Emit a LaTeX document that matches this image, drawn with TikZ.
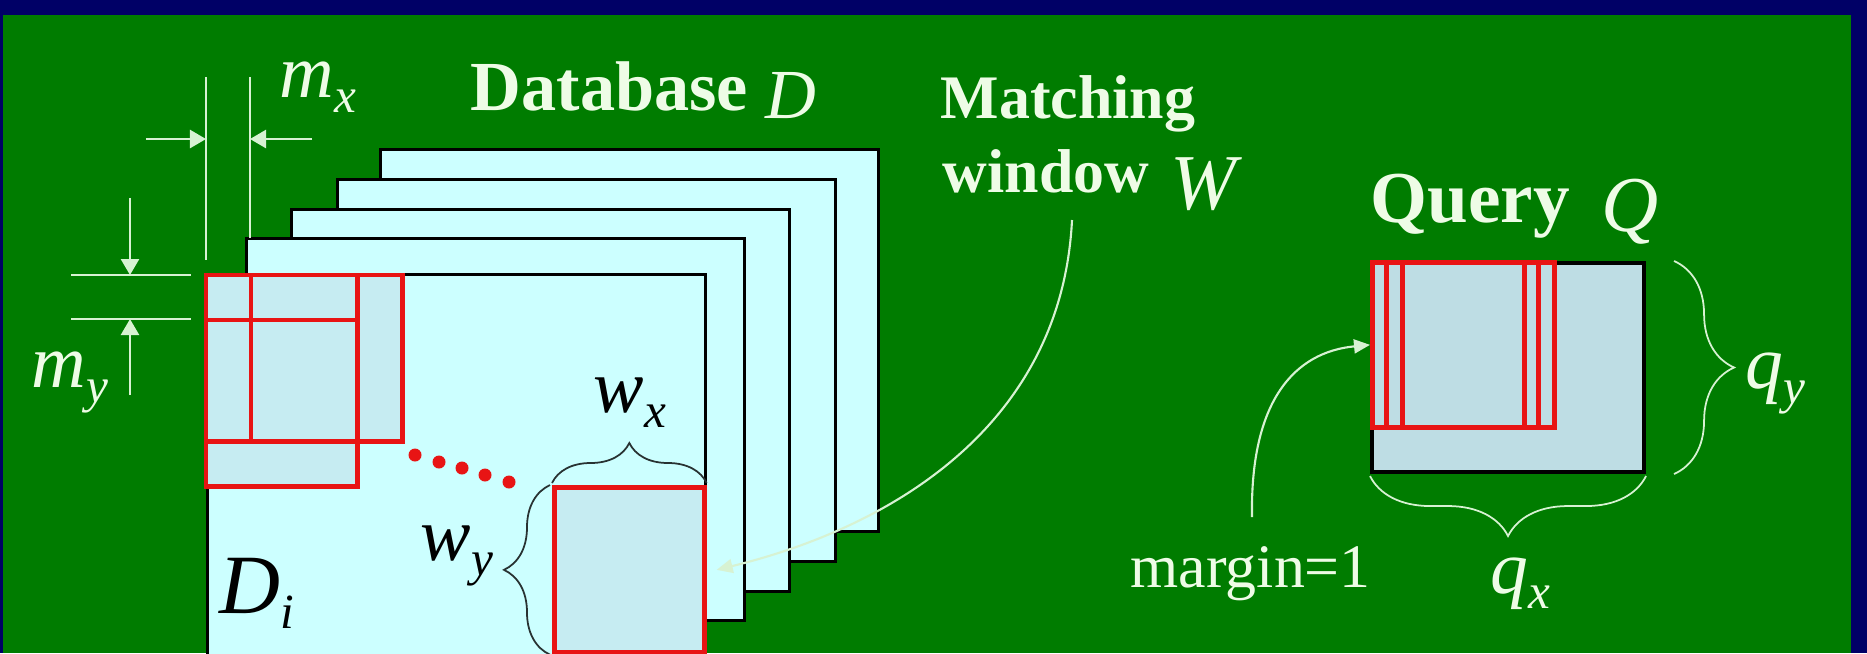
\documentclass[tikz,border=0pt]{standalone}
\usepackage{fontspec}
\setmainfont{Liberation Serif}
\usetikzlibrary{arrows.meta, positioning, decorations.pathreplacing}

\definecolor{slidenavy}{RGB}{0,0,102}
\definecolor{slidegreen}{RGB}{0,124,0}
\definecolor{framecyan}{RGB}{204,255,255}
\definecolor{wincyan}{RGB}{198,236,242}
\definecolor{querygrey}{RGB}{190,221,228}
\definecolor{winred}{RGB}{232,20,20}
\definecolor{chalk}{RGB}{238,252,230}
\definecolor{chalkline}{RGB}{215,242,210}
\definecolor{bracegrey}{RGB}{40,50,50}

% italic variable with a lowered italic index
\newcommand{\varsub}[2]{\textit{#1}\raisebox{-4.5pt}{\fontsize{14}{14}\selectfont\textit{#2}}}

\begin{document}
\begin{tikzpicture}[x=0.01cm, y=-0.01cm,
    dbframe/.style={draw=black, line width=0.9pt, fill=framecyan, anchor=north west,
                    minimum width=4.98cm, minimum height=3.82cm, inner sep=0},
    winfill/.style={fill=wincyan, anchor=north west, minimum width=1.5cm,
                    minimum height=1.65cm, inner sep=0},
    redline/.style={draw=winred, line width=1.3pt},
    qbox/.style={draw=black, line width=1.1pt, fill=querygrey, anchor=north west,
                 minimum width=2.72cm, minimum height=2.09cm, inner sep=0},
    qwin/.style={redline, anchor=north west, minimum width=1.52cm,
                 minimum height=1.65cm, inner sep=0},
    dimline/.style={draw=chalkline, line width=0.7pt},
    dimarrow/.style={dimline, -{Triangle[length=0.16cm, width=0.18cm]}},
    curvearrow/.style={draw=chalkline, line width=0.6pt, -{Triangle[length=0.16cm, width=0.14cm]}},
    curly/.style={decorate, decoration={brace, amplitude=#1}, line width=0.5pt},
    title/.style={text=chalk, anchor=base west, inner sep=0, font=\bfseries\fontsize{#1}{#1}\selectfont},
    plainlbl/.style={text=chalk, anchor=base west, inner sep=0, font=\fontsize{17.6}{17.6}\selectfont},
    varlbl/.style={anchor=base west, inner sep=0, font=\fontsize{#1}{#1}\selectfont}
]
    % slide background
    \fill[slidenavy] (0,0) rectangle (1867,653);
    \fill[slidegreen] (3,15) rectangle (1851,653);
    \useasboundingbox (0,0) rectangle (1867,653);

    % database D: stack of frames, back to front
    \foreach \n/\x/\y in {5/379/148, 4/336/178, 3/290/208, 2/245/237}
        \node[dbframe] (f\n) at (\x,\y) {};
    \node[dbframe, minimum height=3.95cm] (f1) at (206,273) {};

    % windows shifted by the margins
    \node[winfill] (w1) at (206,275) {};
    \node[winfill] (w2) at (251,275) {};
    \node[winfill] (w3) at (206,320) {};
    \foreach \w in {w1,w2,w3}
        \draw[redline] (\w.north west) rectangle (\w.south east);

    \foreach \x/\y in {415/455, 439/462, 462/468, 485/475, 509/482}
        \fill[winred] (\x,\y) circle (0.065cm);

    \node[winfill, redline] (wD) at (552,485) {};
    \draw[curly=0.4cm, draw=bracegrey] ([yshift=0.02cm]wD.north west) -- ([yshift=0.02cm]wD.north east);
    \draw[curly=0.46cm, draw=bracegrey] ([xshift=-0.02cm]wD.south west) -- ([xshift=-0.02cm]wD.north west);

    \node[varlbl=21.5] (wx) at (593,412) {\varsub{w}{x}};
    \node[varlbl=21.5] (wy) at (420,560) {\varsub{w}{y}};
    \node[varlbl=24] (di) at (219,613) {\varsub{D}{i}};

    % margins m_x and m_y
    \coordinate (mxl) at (206,139);
    \coordinate (mxr) at (250,139);
    \draw[dimline] (206,77) -- (206,260);
    \draw[dimline] (250,77) -- (250,238);
    \draw[dimarrow] ([xshift=-0.6cm]mxl) -- (mxl);
    \draw[dimarrow] ([xshift=0.62cm]mxr) -- (mxr);

    \coordinate (myt) at (130,275);
    \coordinate (myb) at (130,319);
    \draw[dimline] (71,275) -- (191,275);
    \draw[dimline] (71,319) -- (191,319);
    \draw[dimarrow] ([yshift=0.77cm]myt) -- (myt);
    \draw[dimarrow] ([yshift=-0.76cm]myb) -- (myb);

    \node[varlbl=21.5, text=chalk] (mx) at (279,97) {\varsub{m}{x}};
    \node[varlbl=21.5, text=chalk] (my) at (31,387) {\varsub{m}{y}};

    % titles
    \node[title=20] (dbtitle) at (470,110)
        {Database\hspace{5pt}\raisebox{-2.3pt}{\mdseries\itshape D}};
    \node[title=17.6] (match) at (940,118) {Matching};
    \node[title=17.6] (window) at (942,192)
        {window\hspace{6pt}\raisebox{-5pt}{\fontsize{22.5}{22.5}\selectfont\mdseries\itshape W}};
    \node[title=20.8] (qtitle) at (1370,222)
        {Query\hspace{9pt}\raisebox{-2.6pt}{\fontsize{22.5}{22.5}\selectfont\mdseries\itshape Q}};

    \coordinate (wtail) at (1072,220);
    \draw[curvearrow] (wtail) .. controls (1062,420) and (900,525) .. ([xshift=0.1cm]wD.east);

    % query Q with windows at margin 1
    \node[qbox] (q) at (1370,261) {};
    \foreach \d [count=\k] in {0,14,30}
        \node[qwin] (qw\k) at (1370+\d,260) {};

    \draw[curly=0.6cm, draw=chalkline] ([xshift=0.28cm]q.north east) -- ([xshift=0.28cm]q.south east);
    \draw[curly=0.6cm, draw=chalkline] ([yshift=-0.02cm]q.south east) -- ([yshift=-0.02cm]q.south west);
    \node[varlbl=21.5, text=chalk] (qy) at (1745,388) {\varsub{q}{y}};
    \node[varlbl=21.5, text=chalk] (qx) at (1490,593) {\varsub{q}{x}};

    \node[plainlbl] (margin) at (1130,587) {margin=1};
    \coordinate (mtail) at (1252,517);
    \draw[curvearrow] (mtail) .. controls (1250,400) and (1295,352) .. (qw1.west);
\end{tikzpicture}
\end{document}
